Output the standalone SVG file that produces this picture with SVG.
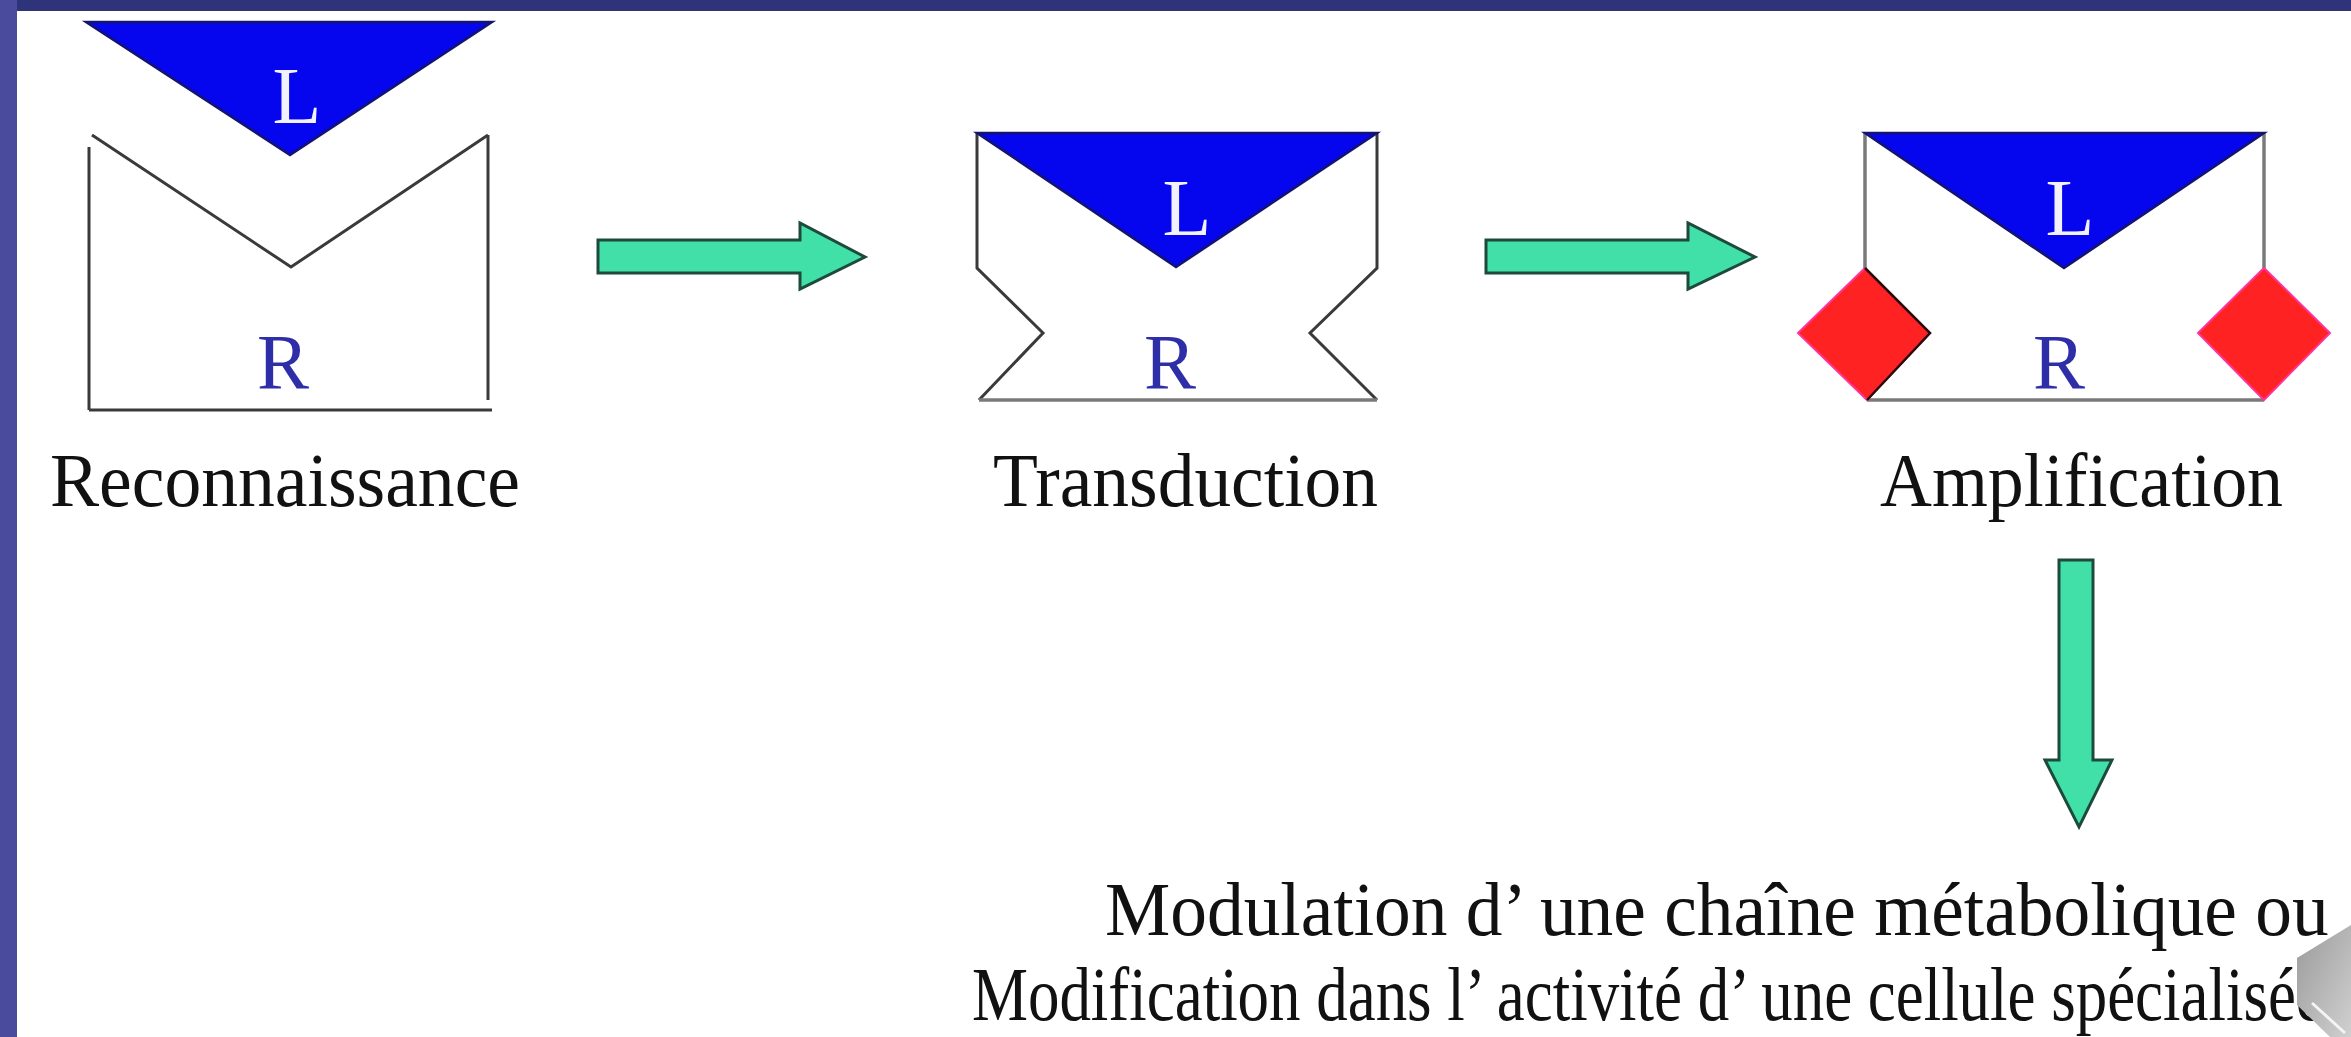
<svg xmlns="http://www.w3.org/2000/svg" width="2351" height="1037" viewBox="0 0 2351 1037">
<style>
.lbl{font-family:"Liberation Serif","Times New Roman",serif;font-size:76px;fill:#111;}
.L{font-family:"Liberation Serif","Times New Roman",serif;font-size:80px;fill:#f2f2ff;text-anchor:middle;}
.R{font-family:"Liberation Serif","Times New Roman",serif;font-size:78px;fill:#2e2ea8;text-anchor:middle;}
.lig{fill:#0505ee;stroke:#14146e;stroke-width:2.5;stroke-linejoin:miter;}
.rec{fill:none;stroke:#3a3a3a;stroke-width:3;}
.recg{fill:none;stroke:#7a7a7a;stroke-width:3.5;}
.arr{fill:#40e0a8;stroke:#1d4a3c;stroke-width:3;stroke-linejoin:miter;}
.dia{fill:#ff2222;stroke:#ff3399;stroke-width:2;}
</style>
<defs>
<linearGradient id="gs" x1="0" y1="0" x2="1" y2="1">
<stop offset="0" stop-color="#9a9a9a"/>
<stop offset="1" stop-color="#d0d0d0"/>
</linearGradient>
</defs>
<rect x="0" y="0" width="2351" height="1037" fill="#ffffff"/>
<rect x="0" y="0" width="2351" height="11" fill="#2f3379"/>
<rect x="0" y="0" width="17" height="1037" fill="#4a4b9c"/>

<g id="node-reconnaissance">
<polygon class="lig" points="86,22 492,22 290,155"/>
<line class="rec" x1="89" y1="147" x2="89" y2="410"/>
<line class="rec" x1="89" y1="410" x2="492" y2="410"/>
<line class="rec" x1="488" y1="135" x2="488" y2="400"/>
<polyline class="rec" points="92,135 291,267 488,135"/>
<text class="L" x="297" y="123">L</text>
<text class="R" x="283" y="388">R</text>
<text class="lbl" x="50" y="506" textLength="470" lengthAdjust="spacingAndGlyphs">Reconnaissance</text>
</g>

<g id="node-transduction">
<polyline class="rec" points="977,133 977,268 1043,333 979,400"/>
<polyline class="rec" points="1377,133 1377,268 1310,333 1377,400"/>
<line class="recg" x1="979" y1="400" x2="1377" y2="400"/>
<polygon class="lig" points="977,133 1377,133 1176,267"/>
<text class="L" x="1187" y="235">L</text>
<text class="R" x="1170" y="388">R</text>
<text class="lbl" x="993" y="506" textLength="385" lengthAdjust="spacingAndGlyphs">Transduction</text>
</g>

<g id="node-amplification">
<line class="recg" x1="1865" y1="133" x2="1865" y2="268"/>
<line class="recg" x1="2264" y1="133" x2="2264" y2="268"/>
<line class="recg" x1="1867" y1="400" x2="2264" y2="400"/>
<polygon class="lig" points="1865,133 2264,133 2064,268"/>
<polygon class="dia" points="1865,268 1930,333 1867,400 1798,333"/>
<polyline fill="none" stroke="#2a0a0a" stroke-width="2.5" points="1865,268 1930,333 1867,400"/>
<polygon class="dia" points="2264,268 2330,333 2264,400 2198,333"/>
<text class="L" x="2070" y="235">L</text>
<text class="R" x="2059" y="388">R</text>
<text class="lbl" x="1880" y="506" textLength="403" lengthAdjust="spacingAndGlyphs">Amplification</text>
</g>

<g id="node-result">
<text class="lbl" transform="translate(1105,935) scale(0.966,1)" x="0" y="0">Modulation d’ une chaîne métabolique ou</text>
<text class="lbl" transform="translate(972,1020) scale(0.828,1)" x="0" y="0">Modification dans l’ activité d’ une cellule spécialisée</text>
</g>

<g id="connectors">
<polygon class="arr" points="598,240 800,240 800,223 865,257 800,289 800,273 598,273"/>
<polygon class="arr" points="1486,240 1688,240 1688,223 1755,257 1688,289 1688,273 1486,273"/>
<polygon class="arr" points="2059,560 2093,560 2093,760 2112,760 2079,827 2045,760 2059,760"/>
</g>

<polygon points="2297,958 2351,925 2351,1037 2330,1037 2297,1005" fill="url(#gs)"/>
<line x1="2312" y1="1003" x2="2345" y2="1033" stroke="#f4f4f4" stroke-width="3"/>
</svg>
